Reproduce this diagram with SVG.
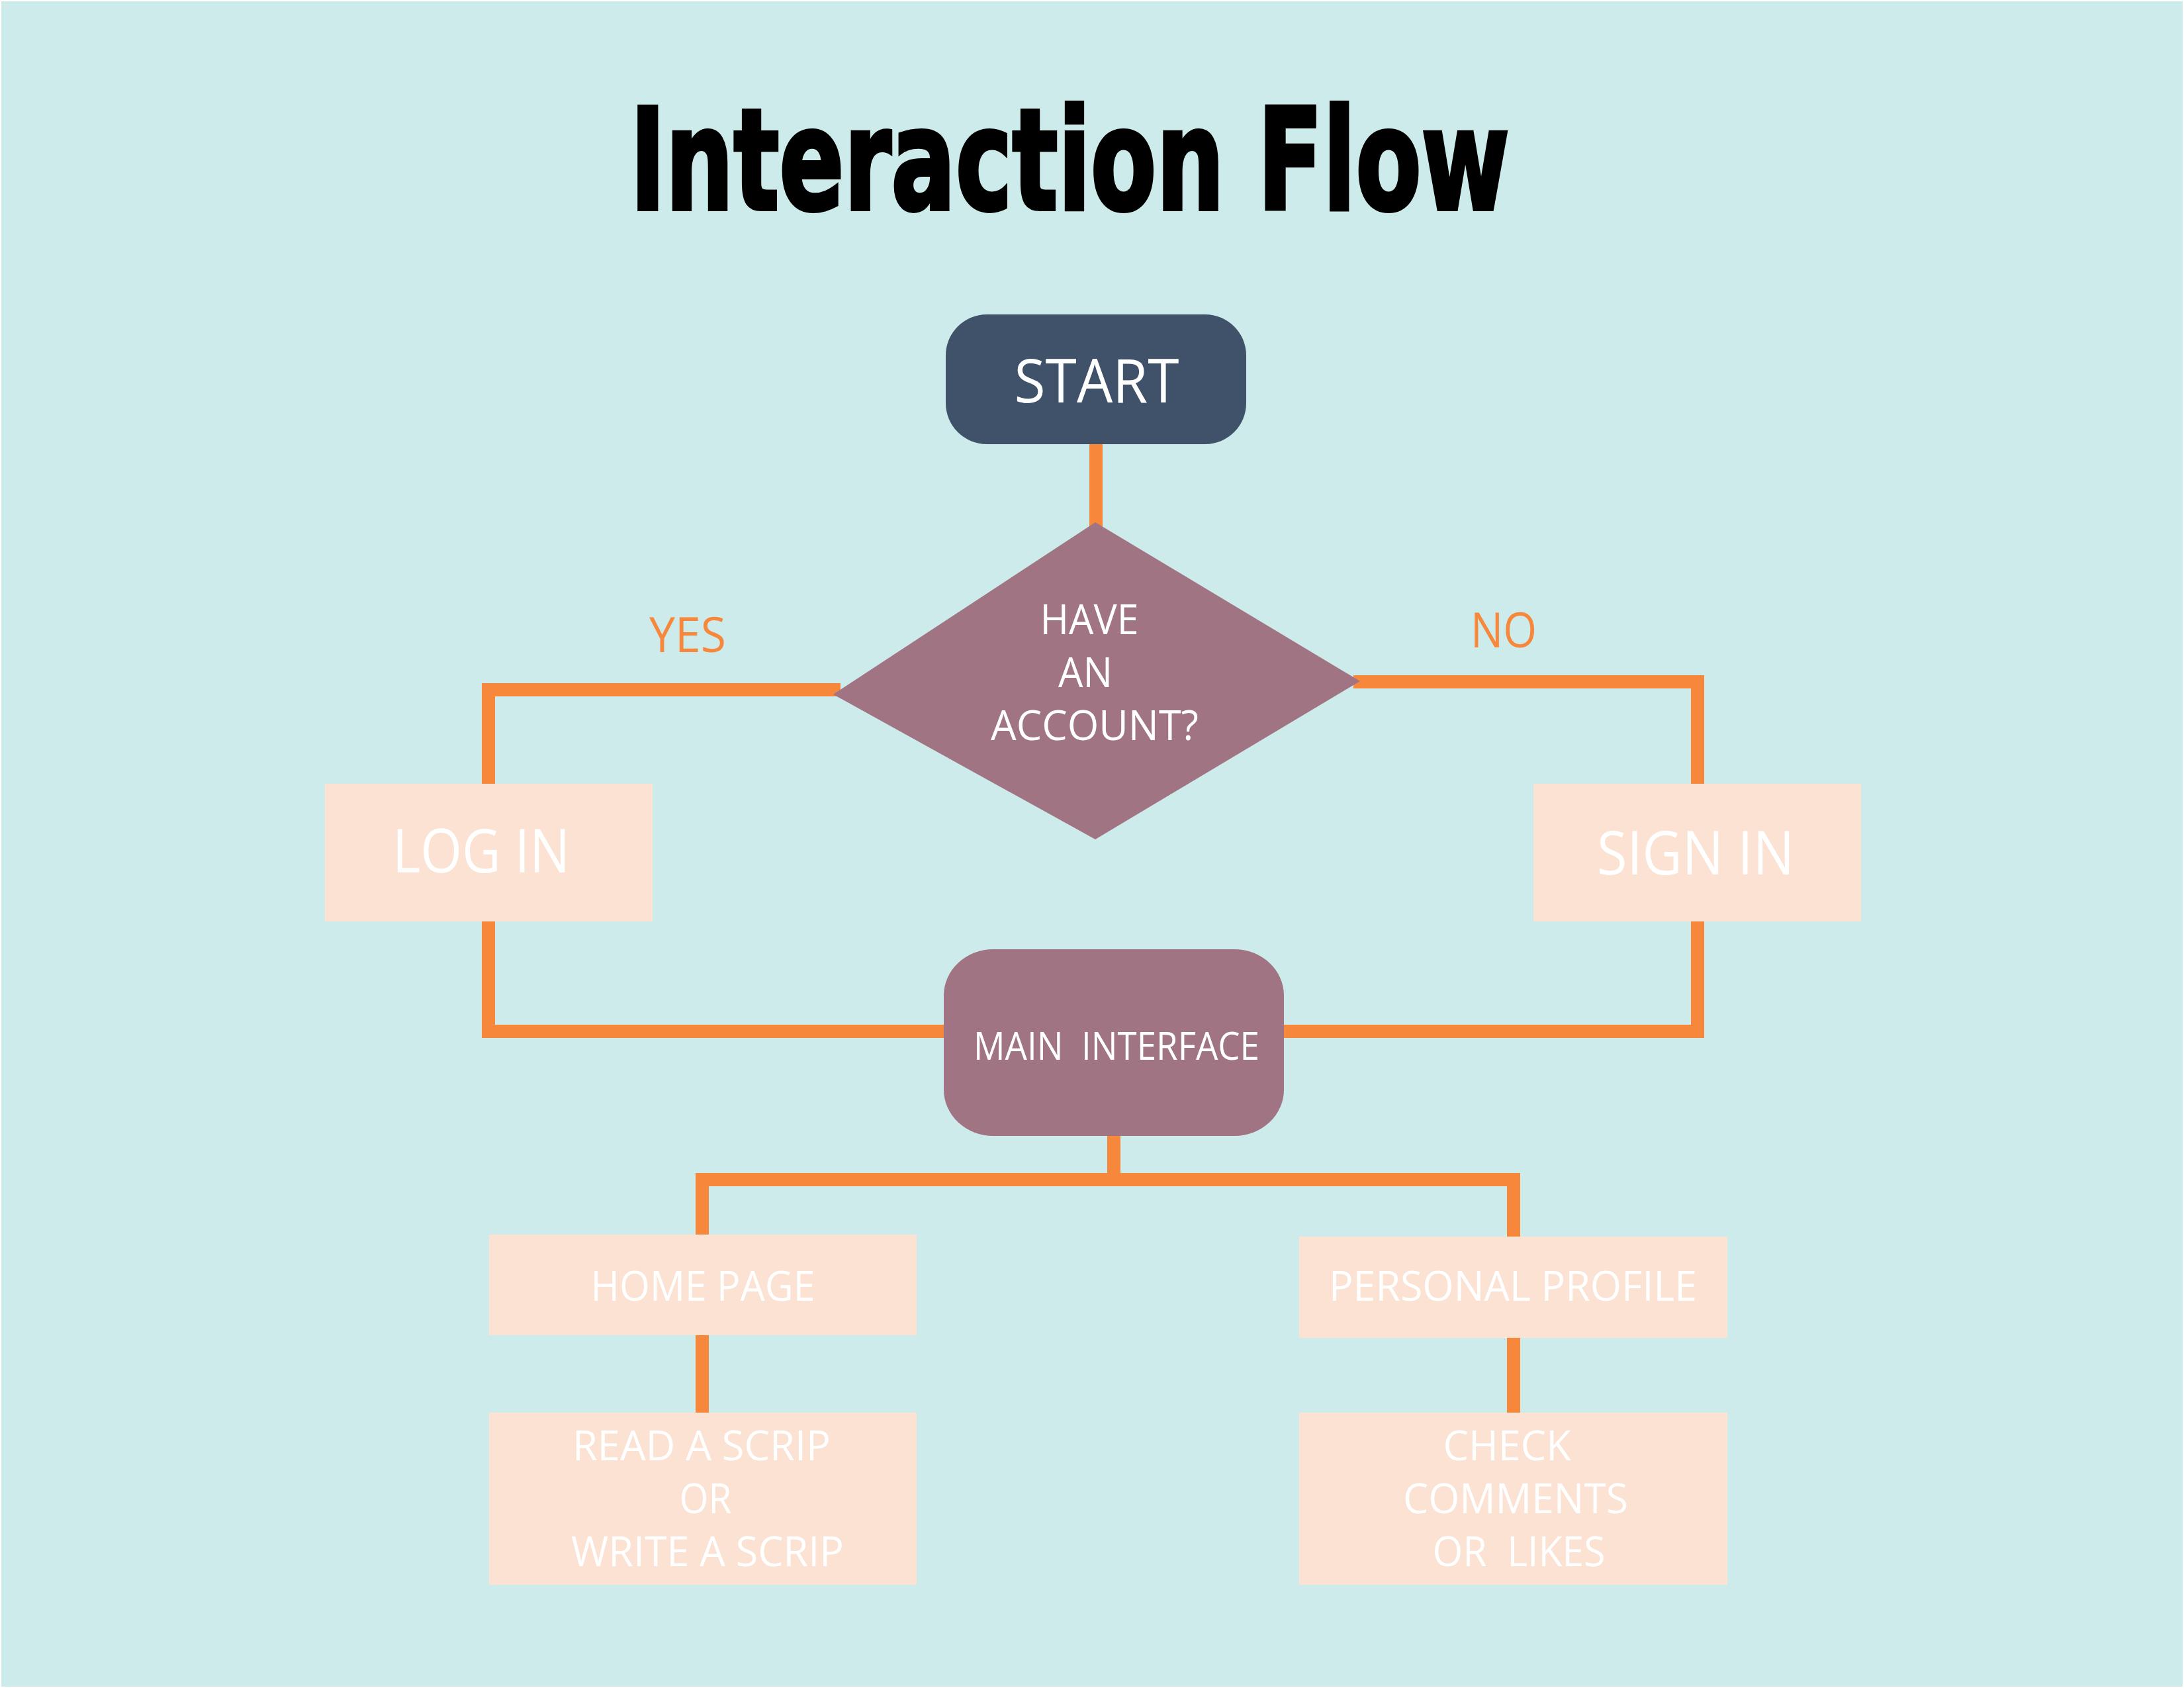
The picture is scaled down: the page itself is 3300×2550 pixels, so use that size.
<svg xmlns="http://www.w3.org/2000/svg" width="3300" height="2550" viewBox="0 0 3300 2550">
  <style>
    .lbl { font-family: "Open Sans", "Noto Sans", "DejaVu Sans", sans-serif; fill: #FFFFFF; text-anchor: middle; }
    .ans { font-family: "Open Sans", "Noto Sans", "DejaVu Sans", sans-serif; fill: #F7883B; text-anchor: middle; font-size: 73px; }
    .conn { fill: none; stroke: #F7883B; stroke-width: 20; stroke-linejoin: miter; stroke-linecap: butt; }
    .peach { fill: #FCE2D2; }
    .mauve { fill: #A07483; }
  </style>
  <rect x="0" y="0" width="3300" height="2550" fill="#FFFFFF"/>
  <rect x="2" y="2" width="3296" height="2546" fill="#CDEBEA"/>

  <text id="title" x="952" y="316" textLength="1329" lengthAdjust="spacingAndGlyphs" font-family="DejaVu Sans, Liberation Sans, sans-serif" font-weight="bold" font-size="212" fill="#000000" stroke="#000000" stroke-width="6">Interaction Flow</text>

  <g id="connectors">
    <path class="conn" d="M1656 671 V795"/>
    <path class="conn" d="M1270 1042 H738 V1184"/>
    <path class="conn" d="M2045 1030 H2565 V1184"/>
    <path class="conn" d="M738 1392 V1558 H1426"/>
    <path class="conn" d="M2565 1392 V1558 H1940"/>
    <path class="conn" d="M1683 1716 V1782"/>
    <path class="conn" d="M1061 1865 V1782 H2287 V1868"/>
    <path class="conn" d="M1061 2017 V2134"/>
    <path class="conn" d="M2287 2021 V2134"/>
  </g>

  <g id="label-yes"><text class="ans" x="1039" y="985" textLength="116" lengthAdjust="spacingAndGlyphs">YES</text></g>
  <g id="label-no"><text class="ans" x="2272" y="978" textLength="100" lengthAdjust="spacingAndGlyphs">NO</text></g>

  <g id="node-start">
    <rect x="1429" y="475" width="454" height="196" rx="62" ry="62" fill="#3F5269"/>
    <text class="lbl" x="1657" y="608" font-size="92" textLength="249" lengthAdjust="spacingAndGlyphs">START</text>
  </g>

  <g id="node-decision">
    <polygon class="mauve" points="1655,789 2055,1029 1655,1268 1259,1049"/>
    <text class="lbl" x="1646" y="958" font-size="63" textLength="149" lengthAdjust="spacingAndGlyphs">HAVE</text>
    <text class="lbl" x="1640" y="1038" font-size="63" textLength="82" lengthAdjust="spacingAndGlyphs">AN</text>
    <text class="lbl" x="1654" y="1118" font-size="63" textLength="314" lengthAdjust="spacingAndGlyphs">ACCOUNT?</text>
  </g>

  <g id="node-login">
    <rect class="peach" x="491" y="1184" width="495" height="208"/>
    <text class="lbl" x="727" y="1318" font-size="91" textLength="268" lengthAdjust="spacingAndGlyphs">LOG IN</text>
  </g>

  <g id="node-signin">
    <rect class="peach" x="2317" y="1184" width="495" height="208"/>
    <text class="lbl" x="2562" y="1321" font-size="91" textLength="298" lengthAdjust="spacingAndGlyphs">SIGN IN</text>
  </g>

  <g id="node-main">
    <rect class="mauve" x="1426" y="1434" width="514" height="282" rx="75" ry="70"/>
    <text class="lbl" x="1687" y="1601" font-size="58" textLength="432" lengthAdjust="spacingAndGlyphs" xml:space="preserve">MAIN  INTERFACE</text>
  </g>

  <g id="node-home">
    <rect class="peach" x="739" y="1865" width="646" height="152"/>
    <text class="lbl" x="1062" y="1965" font-size="63" textLength="339" lengthAdjust="spacingAndGlyphs">HOME PAGE</text>
  </g>

  <g id="node-profile">
    <rect class="peach" x="1963" y="1868" width="647" height="153"/>
    <text class="lbl" x="2286" y="1965" font-size="63" textLength="556" lengthAdjust="spacingAndGlyphs">PERSONAL PROFILE</text>
  </g>

  <g id="node-script">
    <rect class="peach" x="739" y="2134" width="646" height="260"/>
    <text class="lbl" x="1060" y="2206" font-size="63" textLength="390" lengthAdjust="spacingAndGlyphs">READ A SCRIP</text>
    <text class="lbl" x="1066" y="2286" font-size="63" textLength="79" lengthAdjust="spacingAndGlyphs">OR</text>
    <text class="lbl" x="1069" y="2366" font-size="63" textLength="412" lengthAdjust="spacingAndGlyphs">WRITE A SCRIP</text>
  </g>

  <g id="node-check">
    <rect class="peach" x="1963" y="2134" width="647" height="260"/>
    <text class="lbl" x="2277" y="2206" font-size="63" textLength="193" lengthAdjust="spacingAndGlyphs">CHECK</text>
    <text class="lbl" x="2290" y="2286" font-size="63" textLength="340" lengthAdjust="spacingAndGlyphs">COMMENTS</text>
    <text class="lbl" x="2295" y="2366" font-size="63" textLength="261" lengthAdjust="spacingAndGlyphs" xml:space="preserve">OR  LIKES</text>
  </g>
</svg>
